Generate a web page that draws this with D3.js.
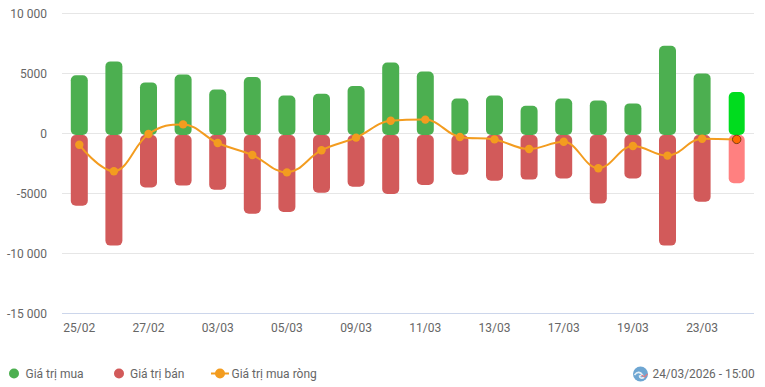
<!DOCTYPE html>
<html><head><meta charset="utf-8">
<script src="https://cdn.jsdelivr.net/npm/d3@7/dist/d3.min.js"></script>
<style>html,body{margin:0;padding:0;background:#fff}svg{display:block}text{font-family:Roboto,sans-serif}</style>
</head><body><div id="chart"></div>
<script>
const categories=["25/02","26/02","27/02","02/03","03/03","04/03","05/03","06/03","09/03","10/03","11/03","12/03","13/03","16/03","17/03","18/03","19/03","20/03","23/03","24/03"];
const buyValues=[4900,6050,4300,4950,3700,4750,3200,3350,4000,5950,5200,2950,3200,2350,2950,2800,2550,7350,5050,3500];
const sellValues=[-5980,-9300,-4450,-4300,-4650,-6650,-6500,-4900,-4400,-5000,-4250,-3400,-3900,-3800,-3700,-5800,-3700,-9300,-5650,-4100];
const netValues=[-900,-3100,0,800,-750,-1750,-3200,-1350,-300,1100,1200,-250,-450,-1250,-650,-2850,-1000,-1800,-400,-450];
const yTicks=[10000,5000,0,-5000,-10000,-15000];
const yTickLabels=["10 000","5000","0","-5000","-10 000","-15 000"];
const legendLabels=["Giá trị mua","Giá trị bán","Giá trị mua ròng"];
const stamp="24/03/2026 - 15:00";

const W=765,H=387,L=62,R=754;
const svg=d3.select("#chart").append("svg").attr("width",W).attr("height",H);
const x=d3.scaleBand().domain(categories).range([L,R]);
const y=d3.scaleLinear().domain([-15000,10000]).range([314,14]);
const cx=d=>x(d)+x.bandwidth()/2;
const txt="#666666";

// grid
svg.append("g").selectAll("line").data(yTicks).join("line")
 .attr("x1",L).attr("x2",R).attr("y1",d=>y(d)-.5).attr("y2",d=>y(d)-.5)
 .attr("stroke",d=>d===-15000?"#ccd6eb":"#e6e6e6");
svg.append("g").selectAll("text").data(yTicks).join("text")
 .attr("x",47).attr("y",d=>y(d)+4).attr("text-anchor","end").attr("font-size",12).attr("fill",txt)
 .text((d,i)=>yTickLabels[i]);
svg.append("g").selectAll("text").data(categories.filter((d,i)=>i%2===0)).join("text")
 .attr("x",cx).attr("y",332).attr("text-anchor","middle").attr("font-size",12).attr("fill",txt).text(d=>d);

// bars
const last=categories.length-1, bw=17, rad=5;
function bar(sel,vals,col,hi){
 sel.selectAll("rect").data(vals).join("rect")
  .attr("x",(d,i)=>cx(categories[i])-(i===last?bw/2-.5:bw/2))
  .attr("width",(d,i)=>i===last?bw-1:bw)
  .attr("y",d=>d>0?y(d):y(0)+1)
  .attr("height",d=>d>0?y(0)+1-y(d):y(d)-y(0)-1)
  .attr("rx",rad).attr("fill",(d,i)=>i===last?hi:col);
}
bar(svg.append("g"),buyValues,"#4caf50","#00dc1e");
bar(svg.append("g"),sellValues,"#d25a5a","#ff8080");

// Highcharts-style spline
function splineCurve(ctx){
 let p=[];
 return {
  areaStart(){},areaEnd(){},
  lineStart(){p=[];},
  point(a,b){p.push([+a,+b]);},
  lineEnd(){
   const s=1.5,d=s+1,c=p.map((q,i)=>{
    if(i===0||i===p.length-1) return {lx:q[0],ly:q[1],rx:q[0],ry:q[1]};
    const a=p[i-1],n=p[i+1];
    const lx=(s*q[0]+a[0])/d,rx=(s*q[0]+n[0])/d;
    let ly=(s*q[1]+a[1])/d,ry=(s*q[1]+n[1])/d;
    const k=((ry-ly)*(rx-q[0]))/(rx-lx)+q[1]-ry;
    ly+=k;ry+=k;
    if(ly>a[1]&&ly>q[1]){ly=Math.max(a[1],q[1]);ry=2*q[1]-ly;}
    else if(ly<a[1]&&ly<q[1]){ly=Math.min(a[1],q[1]);ry=2*q[1]-ly;}
    if(ry>n[1]&&ry>q[1]){ry=Math.max(n[1],q[1]);ly=2*q[1]-ry;}
    else if(ry<n[1]&&ry<q[1]){ry=Math.min(n[1],q[1]);ly=2*q[1]-ry;}
    return {lx,ly,rx,ry};
   });
   p.forEach((q,i)=>{
    if(i===0) ctx.moveTo(q[0],q[1]);
    else ctx.bezierCurveTo(c[i-1].rx,c[i-1].ry,c[i].lx,c[i].ly,q[0],q[1]);
   });
  }
 };
}
const orange="#f39c1f";
svg.append("path").datum(netValues)
 .attr("d",d3.line().x((d,i)=>cx(categories[i])).y(d=>y(d)).curve(splineCurve))
 .attr("fill","none").attr("stroke",orange).attr("stroke-width",2);
svg.append("g").selectAll("circle").data(netValues).join("circle")
 .attr("cx",(d,i)=>cx(categories[i])).attr("cy",d=>y(d))
 .attr("r",4.2)
 .attr("fill",(d,i)=>i===last?"#ff6a00":orange)
 .attr("stroke",(d,i)=>i===last?"#7a3d10":"none").attr("stroke-width",1);

// legend
const ly=373.5;
const lg=svg.append("g");
lg.append("circle").attr("cx",14).attr("cy",ly).attr("r",5).attr("fill","#4caf50");
lg.append("circle").attr("cx",119).attr("cy",ly).attr("r",5).attr("fill","#d25a5a");
lg.append("line").attr("x1",211).attr("x2",229).attr("y1",ly).attr("y2",ly).attr("stroke",orange).attr("stroke-width",2);
lg.append("circle").attr("cx",220).attr("cy",ly).attr("r",5).attr("fill",orange);
lg.selectAll("text").data(legendLabels).join("text")
 .attr("x",(d,i)=>[25.5,130,231.5][i]).attr("y",378).attr("font-size",12).attr("fill",txt).text(d=>d);

// globe icon + stamp
const g=svg.append("g").attr("transform","translate(640.5,374)");
g.append("circle").attr("r",7.5).attr("fill","#6ea6d2");
g.append("path").attr("d","M-6,1 C-3,-3 0,-2 2,1 L-1,2 C-1,4 1,5 4,3").attr("fill","none").attr("stroke","#e6eff6").attr("stroke-width",1.6);
g.append("path").attr("d","M1,1 L4,3 L7,0").attr("fill","none").attr("stroke","#e07a80").attr("stroke-width",1.2);
svg.append("text").attr("x",652.5).attr("y",378).attr("font-size",11.9).attr("fill",txt).text(stamp);
</script></body></html>
